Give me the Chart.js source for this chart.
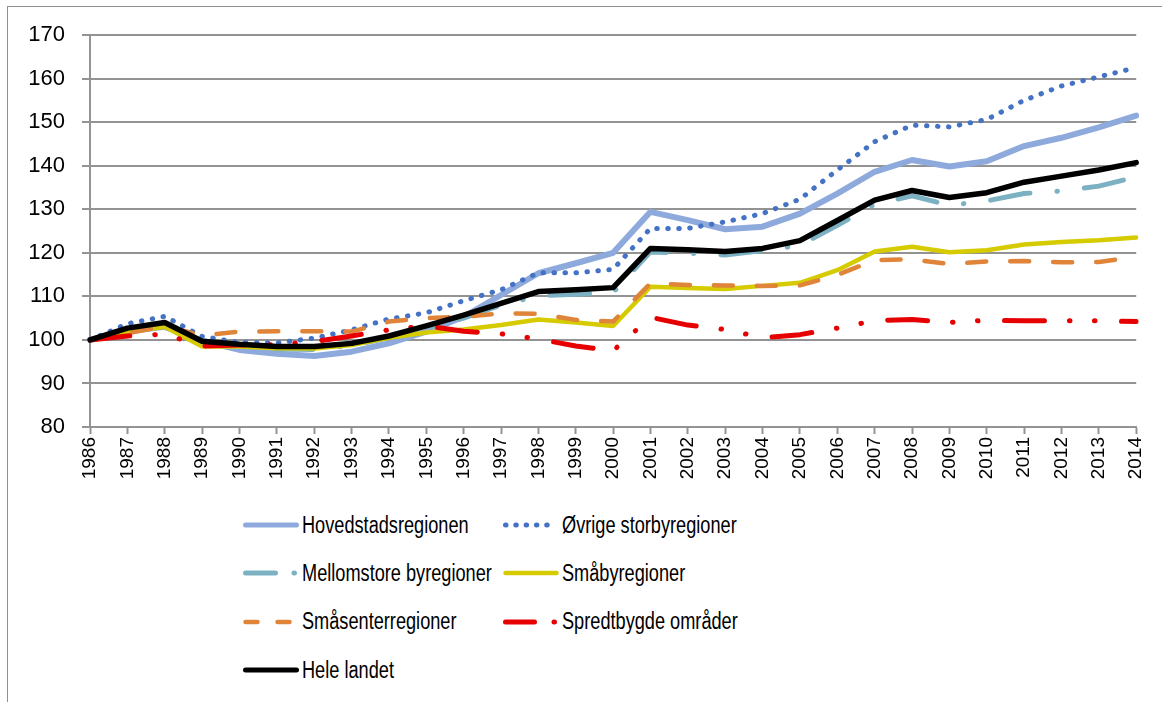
<!DOCTYPE html>
<html>
<head>
<meta charset="utf-8">
<script src="https://cdn.jsdelivr.net/npm/chart.js@4.4.1/dist/chart.umd.min.js"></script>
<style>
    body { margin: 0; background: #fff; }
    #wrap { position: relative; width: 1162px; height: 702px; overflow: hidden; }
    #frame { position: absolute; left: 7px; top: 6px; right: -2px; bottom: -2px; border-top: 1px solid #8f8f8f; border-left: 1px solid #8f8f8f; }
    #chart { position: absolute; left: 0; top: 0; }
    #legend { position: absolute; left: 243px; top: 501px; display: grid; grid-template-columns: 260px 300px; grid-auto-rows: 48.3px; }
    .item { display: flex; align-items: center; font-family: "Liberation Sans", sans-serif; font-size: 23px; color: #000; white-space: nowrap; }
    .item svg { margin-right: 3px; flex: none; }
    .item span { display: inline-block; transform: scaleX(0.79); transform-origin: left center; }
</style>
</head>
<body>
<div id="wrap">
    <div id="frame"></div>
    <canvas id="chart" width="1162" height="490"></canvas>
    <div id="legend"></div>
</div>
<script>
const years = ['1986', '1987', '1988', '1989', '1990', '1991', '1992', '1993', '1994', '1995',
    '1996', '1997', '1998', '1999', '2000', '2001', '2002', '2003', '2004', '2005',
    '2006', '2007', '2008', '2009', '2010', '2011', '2012', '2013', '2014'];

const hovedstad = [100, 102.0, 103.0, 99.8, 97.7, 96.8, 96.3, 97.3, 99.2, 101.9, 105.3, 110.3, 115.3, 117.6, 120.0,
    129.4, 127.5, 125.4, 126.0, 129.0, 133.6, 138.6, 141.3, 139.8, 141.0, 144.5, 146.4, 148.8, 151.5];
const ovrigeStorby = [100, 103.7, 105.4, 100.8, 99.4, 99.3, 100.4, 102.3, 104.8, 106.2, 109.0, 111.5, 115.4, 115.4, 116.2,
    125.6, 125.6, 127.1, 129.0, 132.3, 139.0, 145.5, 149.3, 148.9, 150.6, 155.0, 158.3, 160.4, 162.5];
const mellomstore = [100, 102.4, 103.5, 99.5, 98.6, 97.9, 97.8, 98.7, 100.5, 102.6, 105.0, 108.0, 110.1, 110.5, 110.9,
    120.2, 119.9, 119.5, 120.5, 121.7, 126.3, 131.1, 133.1, 130.9, 131.9, 133.6, 134.2, 135.3, 137.4];
const smaby = [100, 101.8, 103.0, 98.5, 98.5, 98.1, 98.0, 98.8, 100.5, 101.7, 102.4, 103.4, 104.7, 104.0, 103.2,
    112.2, 111.9, 111.7, 112.4, 113.1, 116.0, 120.3, 121.4, 120.1, 120.6, 121.9, 122.5, 122.9, 123.5];
const smasenter = [100, 101.5, 103.2, 101.0, 101.9, 102.0, 102.0, 101.9, 104.2, 105.0, 105.3, 106.1, 106.0, 104.6, 104.2,
    113.0, 112.6, 112.5, 112.4, 112.5, 114.9, 118.3, 118.5, 117.4, 118.0, 118.1, 117.8, 117.9, 119.0];
const spredtbygde = [100, 100.9, 101.3, 98.6, 98.8, 98.9, 99.6, 100.9, 102.3, 103.2, 102.0, 101.4, 100.2, 98.6, 97.5,
    105.2, 103.4, 102.4, 100.5, 101.2, 102.7, 104.4, 104.7, 104.0, 104.5, 104.4, 104.4, 104.4, 104.2];
const heleLandet = [100, 102.7, 104.0, 99.7, 99.0, 98.5, 98.5, 99.2, 100.9, 103.2, 105.7, 108.4, 111.1, 111.5, 112.0,
    121.0, 120.7, 120.3, 121.0, 122.8, 127.4, 132.1, 134.3, 132.7, 133.8, 136.2, 137.6, 139.0, 140.7];

const yTicks = [80, 170, 10]; // min, max, step

const series = [
    { label: 'Hovedstadsregionen', data: hovedstad, color: '#8eaadc', width: 6, dash: [], legendDash: '' },
    { label: 'Øvrige storbyregioner', data: ovrigeStorby, color: '#4472c4', width: 5, dash: [0.5, 10.5], legendDash: '0.5 9.8' },
    { label: 'Mellomstore byregioner', data: mellomstore, color: '#7bb1c2', width: 5, dash: [40, 27, 0.5, 27], legendDash: '30 18.5 0.5 30' },
    { label: 'Småbyregioner', data: smaby, color: '#d5cb00', width: 4.5, dash: [], legendDash: '' },
    { label: 'Småsenterregioner', data: smasenter, color: '#df8438', width: 4.5, dash: [19, 24], legendDash: '12 20' },
    { label: 'Spredtbygde områder', data: spredtbygde, color: '#e60000', width: 5, dash: [40, 25, 0.5, 24.5, 0.5, 26.5], legendDash: '29 19.5 0.5 30' },
    { label: 'Hele landet', data: heleLandet, color: '#000000', width: 5.5, dash: [], legendDash: '' }
];

const gridColor = '#939393';
const tickFont = { family: 'Liberation Sans', size: 22 };

const datasets = series.map(function (s, i) {
    return {
        label: s.label,
        data: s.data,
        borderColor: s.color,
        backgroundColor: s.color,
        borderWidth: s.width,
        borderDash: s.dash,
        borderCapStyle: 'round',
        borderJoinStyle: 'round',
        pointRadius: 0,
        tension: 0,
        fill: false,
        order: series.length - i
    };
});

new Chart(document.getElementById('chart').getContext('2d'), {
    type: 'line',
    data: { labels: years, datasets: datasets },
    options: {
        responsive: false,
        animation: false,
        layout: { padding: { top: 35, right: 23, bottom: 0, left: 0 } },
        plugins: {
            legend: { display: false },
            tooltip: { enabled: false }
        },
        scales: {
            x: {
                offset: false,
                grid: { drawOnChartArea: false, drawTicks: true, tickLength: 7, tickColor: gridColor, tickWidth: 2 },
                border: { display: true, color: gridColor, width: 2 },
                ticks: {
                    color: '#000',
                    font: { family: 'Liberation Sans', size: 19 },
                    minRotation: 90,
                    maxRotation: 90,
                    autoSkip: false,
                    padding: 3
                },
                afterFit: function (scale) { scale.height = 63; }
            },
            y: {
                min: yTicks[0],
                max: yTicks[1],
                ticks: { stepSize: yTicks[2], color: '#000', font: tickFont, padding: 17 },
                grid: { color: gridColor, lineWidth: 2, drawTicks: true, tickLength: 8 },
                border: { display: true, color: gridColor, width: 2 },
                afterFit: function (scale) { scale.width = 90; }
            }
        }
    }
});

// legend in two columns, like the original
const legend = document.getElementById('legend');
series.forEach(function (s) {
    const item = document.createElement('div');
    item.className = 'item';
    const lw = Math.min(s.width, 5);
    item.innerHTML =
        '<svg width="56" height="12"><line x1="2.5" y1="6" x2="53.5" y2="6" stroke="' + s.color +
        '" stroke-width="' + lw + '" stroke-linecap="round"' +
        (s.legendDash ? ' stroke-dasharray="' + s.legendDash + '"' : '') + '/></svg>' +
        '<span>' + s.label + '</span>';
    legend.appendChild(item);
});
</script>
</body>
</html>
